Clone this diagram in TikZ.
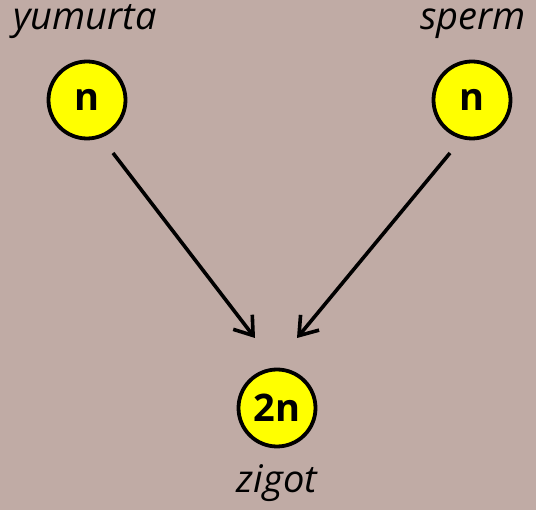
\documentclass[tikz,border=0pt]{standalone}
\usepackage{fontspec}
\setmainfont{Open Sans}
\usetikzlibrary{arrows.meta,calc}
\definecolor{bgtan}{RGB}{192,171,165}
\definecolor{cellyellow}{RGB}{255,255,0}
\tikzset{
  cell/.style={circle, draw=black, line width=3.8pt, fill=cellyellow,
    minimum size=77pt, inner sep=0pt, font=\fontsize{38}{42}\selectfont\bfseries},
  celllabel/.style={font=\fontsize{38}{42}\selectfont\itshape, inner sep=0pt, anchor=base},
  fuse/.style={line width=3.6pt, -{Straight Barb[length=17pt,width=24pt,line width=3.6pt]}}
}
\begin{document}
\begin{tikzpicture}[x=1pt,y=-1pt]
  \fill[bgtan] (0,0) rectangle (536,510);
  \useasboundingbox (0,0) rectangle (536,510);
  % gametes and zygote
  \node[cell] (egg) at (87,100) {n};
  \node[cell] (sperm) at (472,100) {n};
  \node[cell] (zygote) at (277,408) {2n};
  % labels
  \node[celllabel] (egglbl) at (85,30) {yumurta};
  \node[celllabel] (spermlbl) at (473,30) {sperm};
  \node[celllabel] (zygotelbl) at (277,493) {zigot};
  % fertilisation arrows
  \draw[fuse] ($(egg)+(26,53)$) -- ($(zygote)+(-22,-70)$);
  \draw[fuse] ($(sperm)+(-22,53)$) -- ($(zygote)+(20,-70)$);
\end{tikzpicture}
\end{document}
